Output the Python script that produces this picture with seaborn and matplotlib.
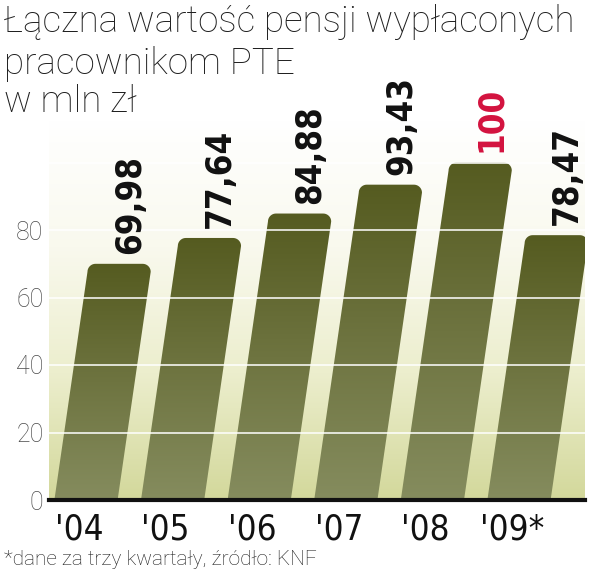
import numpy as np
import pandas as pd
import seaborn as sns
import matplotlib
import matplotlib.pyplot as plt
from matplotlib.path import Path
from matplotlib.patches import PathPatch
from matplotlib.colors import LinearSegmentedColormap
from matplotlib.transforms import ScaledTranslation

# ---- data ----
years = ["'04", "'05", "'06", "'07", "'08", "'09*"]
values = [69.98, 77.64, 84.88, 93.43, 100, 78.47]
value_labels = ["69,98", "77,64", "84,88", "93,43", "100", "78,47"]
label_colors = ["#111111", "#111111", "#111111", "#111111", "#d3123e", "#111111"]
yticks = [0, 20, 40, 60, 80]
title_lines = ["Łączna wartość pensji wypłaconych", "pracownikom PTE", "w mln zł"]
footnote = "*dane za trzy kwartały, źródło: KNF"

sns.set_theme(style="white")
plt.rcParams["font.family"] = ["Roboto", "DejaVu Sans"]

W, H = 600, 579
fig = plt.figure(figsize=(W / 100, H / 100), dpi=100)
fig.patch.set_facecolor("white")

# axes geometry (pixels)
ax_left, ax_right, ax_bottom, ax_top = 49, 585, 500, 120
ax = fig.add_axes([ax_left / W, (H - ax_bottom) / H,
                   (ax_right - ax_left) / W, (ax_bottom - ax_top) / H])

px_per_unit_y = 3.375
px_per_cat = 86.6
ymax = (ax_bottom - ax_top) / px_per_unit_y
x0lim = -(86 - ax_left) / px_per_cat
x1lim = x0lim + (ax_right - ax_left) / px_per_cat

df = pd.DataFrame({"year": years, "value": values})
sns.barplot(data=df, x="year", y="value", ax=ax, width=0.73,
            color="#6b7138", saturation=1, zorder=2)

ax.set_xlim(x0lim, x1lim)
ax.set_ylim(0, ymax)

# background gradient
bg_cmap = LinearSegmentedColormap.from_list("bg", ["#d3d89b", "#eceecd", "#f9f9ee", "#ffffff"])
ax.imshow(np.linspace(0, 1, 256)[:, None], extent=[x0lim, x1lim, 0, ymax],
          origin="lower", aspect="auto", cmap=bg_cmap, zorder=0)

# sheared, rounded, gradient bars built from seaborn's bars
shear_px = 0.145
s = shear_px * px_per_unit_y / px_per_cat  # x data units per y data unit
rx = 8 / px_per_cat
ry = 8 / px_per_unit_y
bar_cmap = LinearSegmentedColormap.from_list("bar", ["#858c5e", "#6e7440", "#555b20"])
bars = list(ax.patches)
for p in bars:
    x0 = p.get_x()
    w = p.get_width()
    h = p.get_height()
    p.set_visible(False)
    t = np.linspace(0, np.pi / 2, 12)
    verts = [(x0, 0), (x0 + w, 0), (x0 + w + s * (h - ry), h - ry)]
    cx, cy = x0 + w + s * (h - ry) - rx, h - ry
    verts += [(cx + rx * np.cos(a), cy + ry * np.sin(a)) for a in t]
    cx2 = x0 + s * (h - ry) + rx
    verts += [(cx2 - rx * np.cos(a), cy + ry * np.sin(a)) for a in t[::-1]]
    verts += [(x0, 0)]
    codes = [Path.MOVETO] + [Path.LINETO] * (len(verts) - 2) + [Path.CLOSEPOLY]
    patch = PathPatch(Path(verts, codes), facecolor="none", edgecolor="none", zorder=2)
    ax.add_patch(patch)
    im = ax.imshow(np.linspace(0, 1, 256)[:, None],
                   extent=[x0, x0 + w + s * h, 0, h], origin="lower",
                   aspect="auto", cmap=bar_cmap, zorder=2)
    im.set_clip_path(patch)

ax.set_xlim(x0lim, x1lim)
ax.set_ylim(0, ymax)

# value labels along the slant
for p, lab, col in zip(bars, value_labels, label_colors):
    h = p.get_height()
    xc = p.get_x() + p.get_width() / 2
    gap = 10 / px_per_unit_y
    mid = h + gap + 42 / px_per_unit_y
    ax.text(xc + s * mid + 2 / px_per_cat, h + gap, lab, rotation=90,
            ha="center", va="bottom", fontsize=25, fontweight="bold",
            family="DejaVu Sans", fontstretch="condensed", color=col,
            zorder=5, clip_on=False)

# grid lines (white, over bars)
for yv in yticks[1:] + [100]:
    ax.axhline(yv, color="white", lw=1.3, alpha=0.85, zorder=3)

# axes styling
for sp in ["top", "right", "left"]:
    ax.spines[sp].set_visible(False)
ax.spines["bottom"].set_color("#111111")
ax.spines["bottom"].set_linewidth(3)
ax.spines["bottom"].set_zorder(6)
ax.set_xlabel("")
ax.set_ylabel("")
ax.set_yticks(yticks)
ax.set_yticklabels([str(v) for v in yticks])
ax.tick_params(axis="y", length=0, pad=4, labelsize=18, labelcolor="#4a4a4a")
for lbl in ax.get_yticklabels():
    lbl.set_fontweight("light")
ax.tick_params(axis="x", length=0, pad=9, labelsize=25, labelcolor="#111111")
for lbl in ax.get_xticklabels():
    lbl.set_family("DejaVu Sans")
    lbl.set_stretch("condensed")
    lbl.set_transform(lbl.get_transform() + ScaledTranslation(-0.07, 0, fig.dpi_scale_trans))

# title (one text per line) and footnote
for line, base in zip(title_lines, [32, 74, 112]):
    fig.text(4 / W, 1 - base / H, line, ha="left", va="baseline", fontsize=26.5,
             fontweight="light", color="#1e1e1e")
fig.text(4 / W, 1 - 565 / H, footnote, ha="left", va="baseline", fontsize=15,
         fontweight="light", color="#1e1e1e")

fig.savefig("out.png", dpi=100)
